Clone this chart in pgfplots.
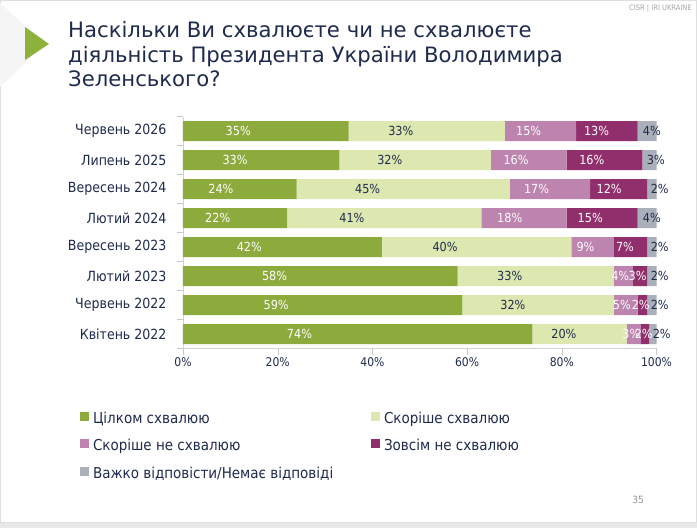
\documentclass[border=0pt]{standalone}
\usepackage{pgfplots}
\usepackage{pgfplotstable}
\pgfplotsset{compat=1.18}
\usepackage{fontspec}
\setmainfont{DejaVu Sans Condensed}
\newfontfamily\titlefont{DejaVu Sans}
\definecolor{cA}{HTML}{8DAA3C}
\definecolor{cB}{HTML}{DCE8AF}
\definecolor{cC}{HTML}{BC84AE}
\definecolor{cD}{HTML}{912E6C}
\definecolor{cE}{HTML}{A9B0B9}
\definecolor{navy}{HTML}{1F2B4D}
\definecolor{tri}{HTML}{8DB13A}

\pgfplotstableread{
y a b c d e la lb lc ld le
0 73.8 19.9 3.0 1.8 1.5 74 20 3 2 2
1 59 32 5 2 2 59 32 5 2 2
2 58 33 4 3 2 58 33 4 3 2
3 42 40 9 7 2 42 40 9 7 2
4 22 41 18 15 4 22 41 18 15 4
5 24 45 17 12 2 24 45 17 12 2
6 33 32 16 16 3 33 32 16 16 3
7 35 33 15 13 4 35 33 15 13 4
}\data

\pgfplotsset{
  seg/.style={
    point meta=explicit,
    nodes near coords={\pgfmathprintnumber[int detect]{\pgfplotspointmeta}\%},
    every node near coord/.style={font=\fontsize{12.5}{14}\selectfont, text=#1, inner sep=0pt, anchor=center, xshift=-\rawv*0.789167pt},
  },
  segend/.style={
    point meta=explicit,
    nodes near coords={\pgfmathprintnumber[int detect]{\pgfplotspointmeta}\%},
    every node near coord/.style={font=\fontsize{12.5}{14}\selectfont, text=#1, inner sep=0pt, anchor=west, xshift=-\rawv*1.578333pt+2pt},
  },
}

\begin{document}
\begin{tikzpicture}[x=1pt,y=1pt]
\useasboundingbox (0,0) rectangle (697,528);
\fill[white] (0,0) rectangle (697,528);
\fill[gray!18] (0,0) rectangle (697,6);
\draw[gray!25] (0.5,6) rectangle (696.5,527.5);
\fill[gray!8] (0,525) -- (45,484) -- (0,441) -- cycle;
\fill[tri] (25,501) -- (49,484) -- (25,468) -- cycle;
\begin{scope}[every node/.style={anchor=base west, text=navy, font=\titlefont\fontsize{21.2}{24.5}\selectfont, inner sep=0pt}]
\node at (68,490) {Наскільки Ви схвалюєте чи не схвалюєте};
\node at (68,465) {діяльність Президента України Володимира};
\node at (68,441) {Зеленського?};
\end{scope}
\node[anchor=east, text=gray!70, font=\fontsize{7.5}{9}\selectfont, inner sep=0pt] at (692,519) {CISR | IRI UKRAINE};
\node[text=gray!80, font=\fontsize{10}{12}\selectfont, inner sep=0pt] at (638,28) {35};

\begin{axis}[
  at={(183pt,179.5pt)}, anchor=south west,
  scale only axis, width=473.5pt, height=232pt,
  xbar stacked, bar width=20pt,
  xmin=0, xmax=100, ymin=-0.5, ymax=7.5,
  axis lines*=left,
  axis line style={draw=gray!35, -},
  tick align=outside, major tick length=6pt,
  tick style={draw=gray!45},
  xtick={0,20,...,100},
  xticklabel={\pgfmathprintnumber{\tick}\%},
  ytick={-0.5,0.5,...,7.5},
  yticklabels={{},{},{},{},{},{},{},{},{}},
  extra y ticks={0,1,2,3,4,5,6,7},
  extra y tick labels={Квітень 2022,Червень 2022,Лютий 2023,Вересень 2023,Лютий 2024,Вересень 2024,Липень 2025,Червень 2026},
  extra y tick style={tick style={draw=none}, yticklabel style={font=\fontsize{14}{16}\selectfont, text=navy, xshift=-7pt}},
  xticklabel style={font=\fontsize{12}{14}\selectfont, text=navy},
  /pgf/number format/assume math mode=true,
  legend columns=2,
  legend style={at={(-0.2175,-0.2737)}, anchor=north west, draw=none, fill=none, inner sep=0pt, outer sep=0pt,
    font=\fontsize{15}{18}\selectfont, text=navy,
    nodes={inner sep=0pt, text height=11pt, text depth=4pt},
    /tikz/every odd column/.style={column sep=4pt},
    row sep=12pt,
    cells={anchor=west}},
  legend image code/.code={\fill[#1] (0pt,-1pt) rectangle (9pt,8pt);},
]
\addplot[fill=cA, draw=none, seg=white, visualization depends on={\thisrow{a}\as\rawv}] table[x=a, y=y, meta=la] {\data};
\addlegendentry{\makebox[278pt][l]{Цілком схвалюю}}
\addplot[fill=cB, draw=none, seg=navy, visualization depends on={\thisrow{b}\as\rawv}] table[x=b, y=y, meta=lb] {\data};
\addlegendentry{Скоріше схвалюю}
\addplot[fill=cC, draw=none, seg=white, visualization depends on={\thisrow{c}\as\rawv}] table[x=c, y=y, meta=lc] {\data};
\addlegendentry{\makebox[278pt][l]{Скоріше не схвалюю}}
\addplot[fill=cD, draw=none, seg=white, visualization depends on={\thisrow{d}\as\rawv}] table[x=d, y=y, meta=ld] {\data};
\addlegendentry{Зовсім не схвалюю}
\addplot[fill=cE, draw=none, segend=navy, visualization depends on={\thisrow{e}\as\rawv}] table[x=e, y=y, meta=le] {\data};
\addlegendentry{Важко відповісти/Немає відповіді}
\end{axis}
\end{tikzpicture}
\end{document}
